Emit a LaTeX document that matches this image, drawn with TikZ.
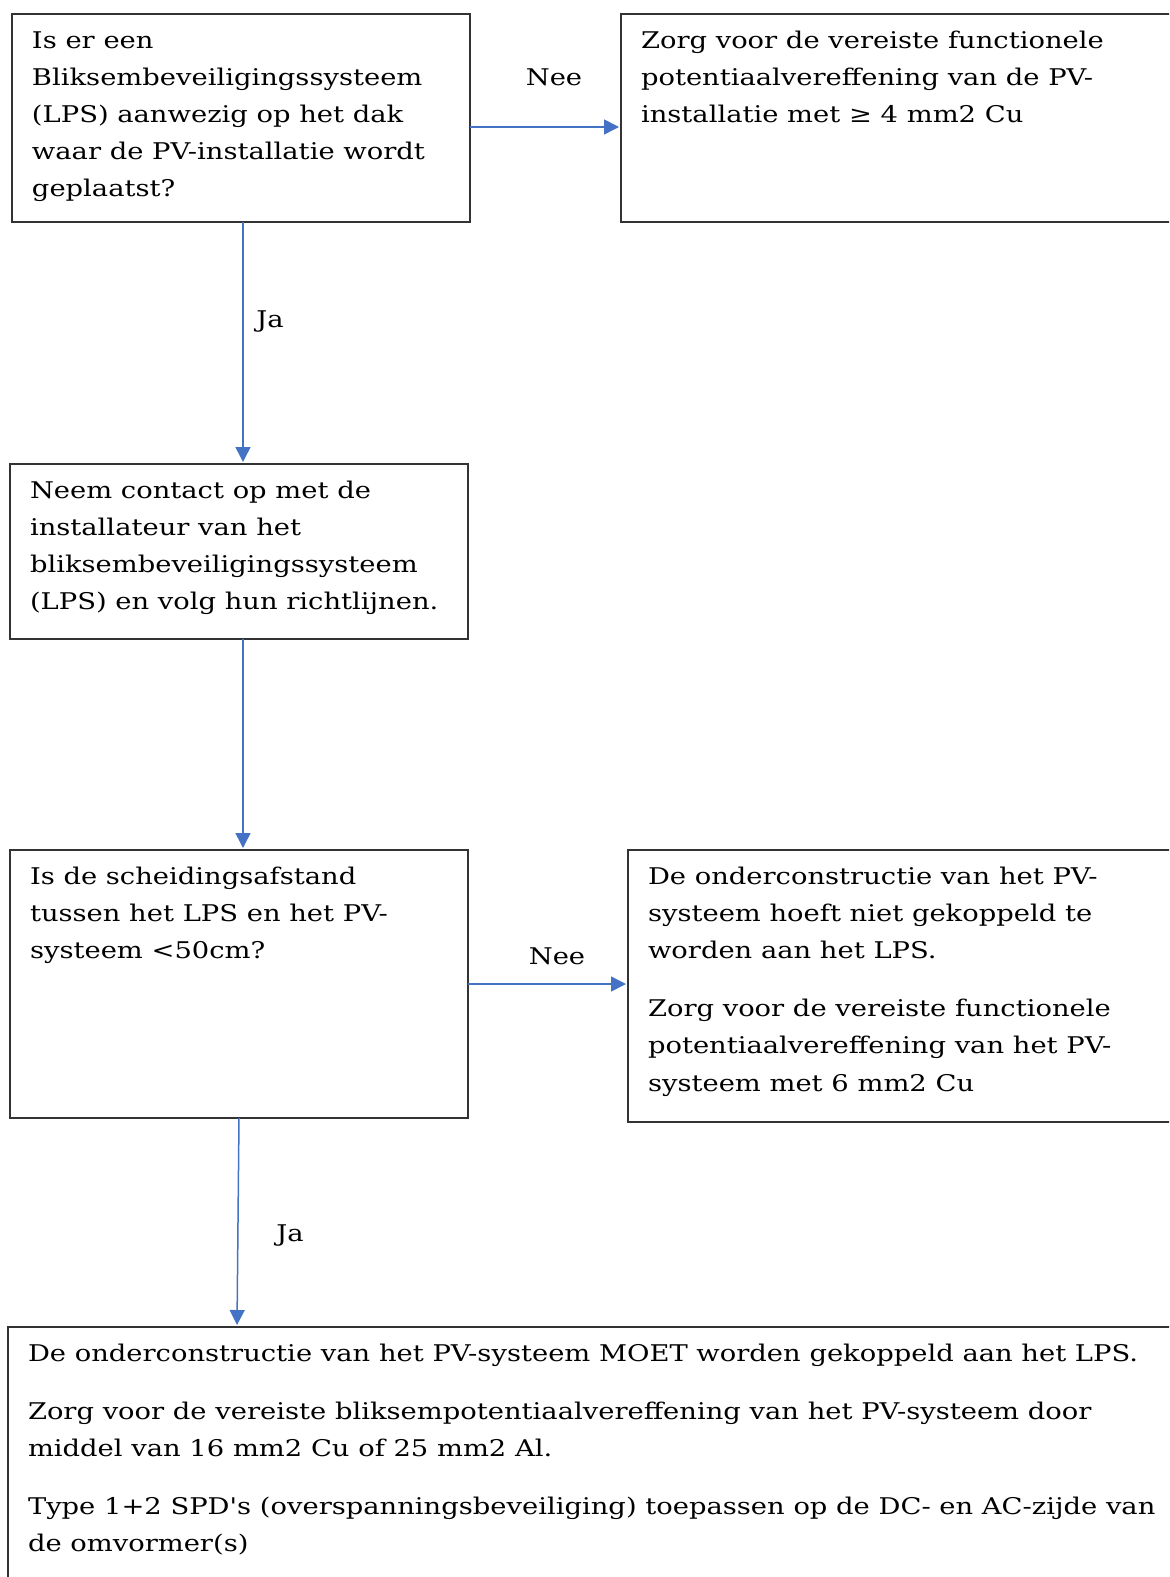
\documentclass[tikz,border=0pt]{standalone}
\usepackage{fontspec}
\setmainfont{DejaVu Serif}[Ligatures=TeXOff,FakeStretch=1.19]
\usetikzlibrary{arrows.meta,calc}
\definecolor{arrblue}{HTML}{4472C4}
\definecolor{boxline}{HTML}{333333}
\begin{document}
\begin{tikzpicture}[x=0.5pt,y=-0.5pt,
  box/.style={draw=boxline,line width=0.75pt,rectangle,inner sep=0pt,outer sep=0pt,anchor=north west},
  txt/.style={inner sep=0pt,outer sep=0pt,anchor=north west,align=left,font=\fontsize{11.5}{18.6}\selectfont},
  lbl/.style={inner sep=0pt,font=\fontsize{11.5}{18.6}\selectfont},
  arr/.style={draw=arrblue,line width=0.75pt,-{Triangle[length=7.5pt,width=7.5pt]},shorten >=1pt}]
\useasboundingbox (0,0) rectangle (1169,1577);
\clip (0,0) rectangle (1169,1577);
% boxes
\node[box,minimum width=229pt,minimum height=104pt] (b1) at (12,14) {};
\node[box,minimum width=280pt,minimum height=104pt] (b2) at (621,14) {};
\node[box,minimum width=229pt,minimum height=87.5pt] (b3) at (10,464) {};
\node[box,minimum width=229pt,minimum height=134pt] (b4) at (10,850) {};
\node[box,minimum width=280pt,minimum height=136pt] (b5) at (628,850) {};
\node[box,minimum width=590pt,minimum height=135pt] (b6) at (8,1327) {};
% texts
\node[txt] (t1) at (32,22) {\strut Is er een\\ Bliksembeveiligingssysteem\\ (LPS) aanwezig op het dak\\ waar de PV-installatie wordt\\ geplaatst?};
\node[txt] (t2) at (641,22) {\strut Zorg voor de vereiste functionele\\ potentiaalvereffening van de PV-\\ installatie met ≥ 4 mm2 Cu};
\node[txt] (t3) at (30,472) {\strut Neem contact op met de\\ installateur van het\\ bliksembeveiligingssysteem\\ (LPS) en volg hun richtlijnen.};
\node[txt] (t4) at (30,858) {\strut Is de scheidingsafstand\\ tussen het LPS en het PV-\\ systeem <50cm?};
\node[txt] (t5) at (648,858) {\strut De onderconstructie van het PV-\\ systeem hoeft niet gekoppeld te\\ worden aan het LPS.\\[10.5pt] Zorg voor de vereiste functionele\\ potentiaalvereffening van het PV-\\ systeem met 6 mm2 Cu};
\node[txt] (t6) at (28,1335) {\strut De onderconstructie van het PV-systeem MOET worden gekoppeld aan het LPS.\\[10.5pt] Zorg voor de vereiste bliksempotentiaalvereffening van het PV-systeem door\\ middel van 16 mm2 Cu of 25 mm2 Al.\\[10.5pt] Type 1+2 SPD's (overspanningsbeveiliging) toepassen op de DC- en AC-zijde van\\ de omvormer(s)};
% labels
\node[lbl] (n1) at (554,77) {Nee};
\node[lbl] (j1) at (270,322) {Ja};
\node[lbl] (n2) at (557,956) {Nee};
\node[lbl] (j2) at (290,1235) {Ja};
% connectors
\draw[arr] ([yshift=-4.5pt]b1.east) -- ([yshift=-4.5pt]b1.east -| b2.west);
\draw[arr] ([xshift=1pt]b1.south) -- ([xshift=1pt]b1.south |- b3.north);
\draw[arr] ([xshift=1pt]b1.south |- b3.south) -- ([xshift=1pt]b1.south |- b4.north);
\draw[arr] (b4.east) -- (b4.east -| b5.west);
\draw[arr] (b4.south) -- ([xshift=-1pt]b4.south |- b6.north);
\end{tikzpicture}
\end{document}
